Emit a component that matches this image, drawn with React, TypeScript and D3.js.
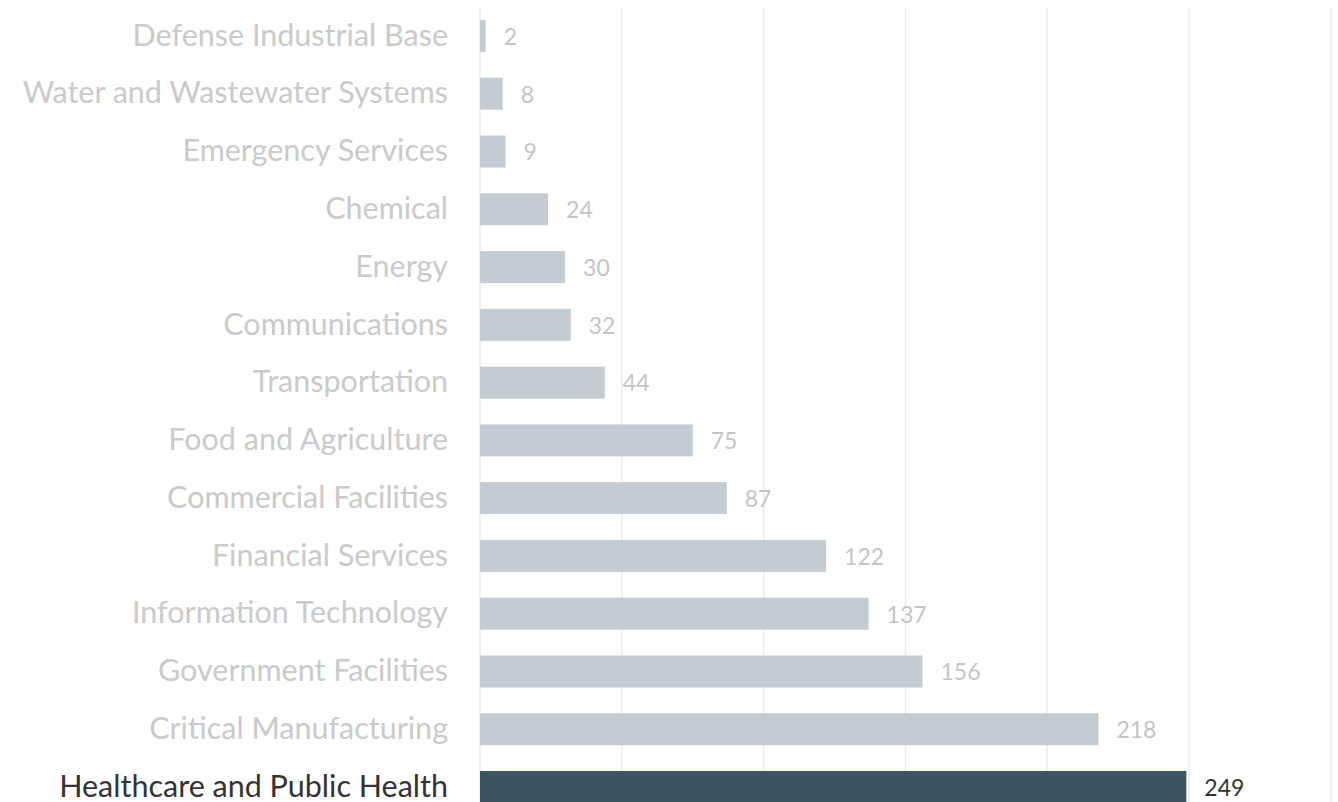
import * as d3 from 'd3';

const sectors = [
  'Defense Industrial Base',
  'Water and Wastewater Systems',
  'Emergency Services',
  'Chemical',
  'Energy',
  'Communications',
  'Transportation',
  'Food and Agriculture',
  'Commercial Facilities',
  'Financial Services',
  'Information Technology',
  'Government Facilities',
  'Critical Manufacturing',
  'Healthcare and Public Health',
];
const counts = [2, 8, 9, 24, 30, 32, 44, 75, 87, 122, 137, 156, 218, 249];
const gridTicks = [0, 50, 100, 150, 200, 250, 300];
const highlight = 'Healthcare and Public Health';

export default function App() {
  const width = 1338;
  const height = 802;

  const xScale = d3.scaleLinear().domain([0, 300]).range([480, 1331]);
  const yScale = d3
    .scaleBand()
    .domain(sectors)
    .range([20, 803])
    .paddingInner(0.446)
    .paddingOuter(0);

  const font = 'Lato, "Open Sans", sans-serif';

  return (
    <svg
      width={width}
      height={height}
      style={{ position: 'absolute', left: 0, top: 0, background: '#fff' }}
    >
      {/* grid */}
      {gridTicks.map((t) => (
        <line
          key={t}
          x1={xScale(t)}
          x2={xScale(t)}
          y1={7}
          y2={height}
          stroke="#ececec"
          strokeWidth={1.5}
        />
      ))}

      {sectors.map((s, i) => {
        const y = yScale(s)!;
        const bw = yScale.bandwidth();
        const hi = s === highlight;
        return (
          <g key={s}>
            <rect
              x={xScale(0)}
              y={y}
              width={xScale(counts[i]) - xScale(0)}
              height={bw}
              fill={hi ? '#3a5463' : '#c4ccd2'}
            />
            <text
              x={448}
              y={y + bw / 2 + 2}
              textAnchor="end"
              dominantBaseline="middle"
              fontFamily={font}
              fontSize={30.5}
              fill={hi ? '#333' : '#cacaca'}
            >
              {s}
            </text>
            <text
              x={xScale(counts[i]) + 18}
              y={y + bw / 2 + 3}
              dominantBaseline="middle"
              fontFamily={font}
              fontSize={23}
              fill={hi ? '#333' : '#c4c4c4'}
            >
              {counts[i]}
            </text>
          </g>
        );
      })}
    </svg>
  );
}
